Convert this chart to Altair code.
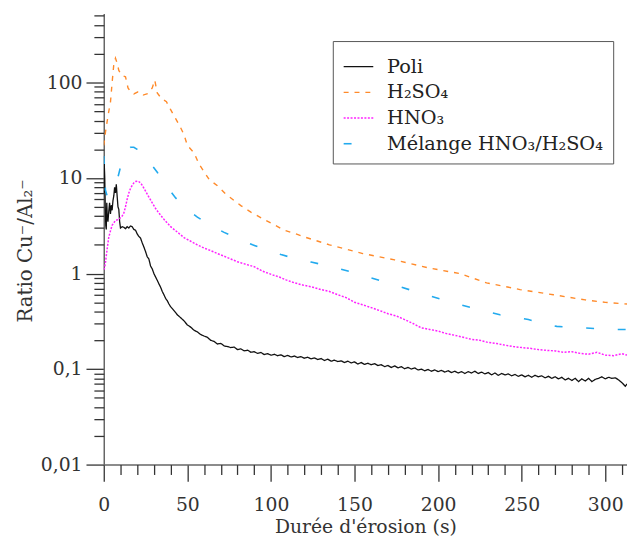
import altair as alt
import pandas as pd

names = ["Poli", "H₂SO₄", "HNO₃", "Mélange HNO₃/H₂SO₄"]
colors = ["#111111", "#ff8a2a", "#ff22ff", "#22aaee"]
dashes = [[1, 0], [5, 6], [2, 1.5], [8, 24]]
widths = [1.3, 1.6, 1.6, 1.8]

poli_t = [0, 0.3, 0.6, 0.9, 1.2, 1.5, 1.8, 2.1, 2.5, 3, 3.5, 4, 4.5, 5, 5.5, 6, 6.5, 7, 7.5, 8, 8.5, 9, 9.5,
          10, 11, 12, 13, 14, 15, 16, 17, 18, 19, 20, 21, 22, 23, 24, 25, 26, 27, 28, 29, 30, 31, 32, 33, 34,
          35, 36, 37, 38, 39, 40, 41, 42, 43,
          44, 46, 48, 50, 52, 54, 56, 58, 60, 62, 64, 66, 68, 70, 72, 74, 76, 78, 80, 82, 84, 86, 88, 90,
          92, 94, 96, 98, 100, 102, 104, 106, 108, 110, 112, 114, 116, 118, 120, 122, 124, 126, 128, 130,
          132, 134, 136, 138, 140, 142, 144, 146, 148, 150, 152, 154, 156, 158, 160, 162, 164, 166, 168, 170,
          172, 174, 176, 178, 180, 182, 184, 186, 188, 190, 192, 194, 196, 198, 200, 202, 204, 206, 208, 210,
          212, 214, 216, 218, 220, 222, 224, 226, 228, 230, 232, 234, 236, 238, 240, 242, 244, 246, 248, 250,
          252, 254, 256, 258, 260, 262, 264, 266, 268, 270, 272, 274, 276, 278, 280, 282, 284, 286, 288, 290,
          292, 294, 296, 298, 300, 302, 304, 306, 308, 310, 312, 313]
poli_v = [7, 14, 10, 5, 3.2, 2.9, 5.5, 4, 3.5, 4.5, 5.5, 4.2, 5.2, 4.6, 5.8, 6.5, 8, 7, 8.6, 6.5, 5, 4.7, 3.5,
          3.0, 3.1, 3.05, 2.95, 3.1, 3.0, 3.15, 3.1, 2.9, 2.85, 2.6, 2.45, 2.35, 2.1, 1.9, 1.7, 1.5, 1.42, 1.2,
          1.12, 1.0, 0.92, 0.85, 0.78, 0.72, 0.65, 0.6, 0.55, 0.52, 0.48, 0.45, 0.43, 0.41, 0.39,
          0.37, 0.345, 0.32, 0.29, 0.275, 0.255, 0.245, 0.23, 0.222, 0.215, 0.2, 0.195, 0.183, 0.186, 0.175,
          0.172, 0.168, 0.17, 0.16, 0.163, 0.155, 0.158, 0.15, 0.152,
          0.146, 0.149, 0.142, 0.145, 0.14, 0.143, 0.138, 0.141, 0.135, 0.139, 0.134, 0.137, 0.132, 0.135,
          0.13, 0.133, 0.128, 0.131, 0.126, 0.129,
          0.123, 0.127, 0.121, 0.124, 0.12, 0.122, 0.117, 0.121, 0.116, 0.119, 0.113, 0.117, 0.112, 0.115,
          0.111, 0.114, 0.109, 0.111, 0.106, 0.109,
          0.104, 0.108, 0.103, 0.106, 0.101, 0.104, 0.1, 0.103, 0.098, 0.1, 0.096, 0.099, 0.095, 0.098, 0.094,
          0.097, 0.093, 0.096, 0.092, 0.095,
          0.091, 0.094, 0.09, 0.094, 0.091, 0.095, 0.09, 0.093, 0.089, 0.092, 0.087, 0.091, 0.086, 0.09, 0.087,
          0.089, 0.085, 0.088, 0.084, 0.087,
          0.083, 0.086, 0.082, 0.086, 0.083, 0.085, 0.081, 0.084, 0.08, 0.083, 0.079, 0.082, 0.077, 0.08,
          0.076, 0.08, 0.074, 0.079, 0.075, 0.08,
          0.074, 0.078, 0.08, 0.083, 0.079, 0.082, 0.08, 0.081, 0.077, 0.072, 0.066, 0.07]

h2so4_t = [0, 1, 2, 3, 4, 5, 6, 7, 8, 9, 11, 13, 14.5, 16, 18, 20.5, 23.5, 26.5, 29, 30.5, 32, 34.5, 37.5,
           40, 43, 45.5, 48, 50, 54, 57, 63, 68, 73, 82, 88, 97, 108, 115, 120, 135, 155, 174, 194, 213,
           229, 249, 269, 288, 300, 313]
h2so4_v = [22, 30, 39, 50, 62, 100, 155, 180, 160, 134, 118, 115, 88, 80, 76, 80, 74, 77, 88, 106, 78, 68, 63,
           52, 42, 35, 28.5, 22, 18.4, 14, 9.7, 8.3, 6.8, 5.15, 4.4, 3.6, 2.85, 2.6, 2.42, 2.0, 1.62, 1.39,
           1.15, 1.0, 0.8, 0.68, 0.6, 0.53, 0.5, 0.48]

hno3_t = [0, 0.5, 1, 2, 3, 4, 5, 6, 7, 9, 11, 12, 13, 14, 15, 16, 17, 18, 19, 20.5, 22, 23, 25, 27, 29, 31,
          33, 36, 40, 44, 48, 52, 56, 60, 64, 68, 72, 76, 80, 85, 90, 95, 101, 105, 109, 114, 119, 125, 130,
          135, 140, 145, 150, 155, 160, 165, 170, 175, 180, 185, 190, 195, 200, 205, 210, 215, 220, 225, 230,
          235, 240, 245, 250, 255, 260, 265, 270, 275, 280, 285, 290, 295, 300, 305, 310, 313]
hno3_v = [1.1, 1.15, 1.3, 1.8, 2.4, 2.8, 3.2, 3.4, 3.6, 3.7, 4.0, 4.3, 5.0, 6.0, 7.0, 7.8, 8.4, 8.9, 9.2, 9.3,
          8.9, 8.4, 7.3, 6.3, 5.5, 4.8, 4.3, 3.7, 3.1, 2.72, 2.38, 2.18, 2.0, 1.85, 1.74, 1.62, 1.52, 1.42,
          1.33, 1.25, 1.18, 1.06, 0.97, 0.92, 0.86, 0.8, 0.76, 0.72, 0.68, 0.65, 0.6, 0.56, 0.5, 0.47, 0.44,
          0.41, 0.38, 0.36, 0.33, 0.3, 0.27, 0.26, 0.25, 0.235, 0.226, 0.215, 0.205, 0.2, 0.19, 0.185, 0.178,
          0.172, 0.168, 0.165, 0.16, 0.157, 0.155, 0.15, 0.152, 0.146, 0.143, 0.15, 0.14, 0.138, 0.145, 0.14]

mel_t = [0, 0.5, 1, 2, 4, 6, 8, 10, 12, 14, 16, 18, 20, 23, 27, 32, 37, 43, 49, 56, 64, 72, 81, 89, 98, 106,
         115, 124, 132, 141, 150, 158, 167, 176, 185, 194, 203, 212, 220, 229, 237, 246, 254, 263, 271, 279,
         287, 296, 305, 313]
mel_v = [17, 12, 7.5, 6.5, 7, 8, 9.5, 13, 16.5, 19.5, 21, 21, 20, 18, 15, 11.5, 8.5, 6.2, 4.8, 3.9, 3.2, 2.7,
         2.3, 2.0, 1.76, 1.58, 1.43, 1.32, 1.23, 1.12, 1.02, 0.92, 0.83, 0.74, 0.66, 0.59, 0.53, 0.48, 0.44,
         0.4, 0.37, 0.35, 0.33, 0.3, 0.28, 0.275, 0.27, 0.265, 0.26, 0.26]

x_major = [0, 50, 100, 150, 200, 250, 300]
x_minor = [v for v in range(0, 320, 10) if v % 50 != 0]
y_major = [0.01, 0.1, 1, 10, 100]
y_minor = [round(d * k, 6) for d in y_major for k in range(2, 10)] + [200, 300, 400, 500]

frames = []
for name, ts, vs in [(names[0], poli_t, poli_v), (names[1], h2so4_t, h2so4_v),
                     (names[2], hno3_t, hno3_v), (names[3], mel_t, mel_v)]:
    frames.append(pd.DataFrame({"t": ts, "v": vs, "serie": name}))
df = pd.concat(frames, ignore_index=True)

FONT = "DejaVu Serif"
TICK = "#333333"
xscale = alt.Scale(domain=[0, 313], nice=False, zero=False)
yscale = alt.Scale(type="log", domain=[0.01, 530], nice=False)

legend = alt.Legend(
    title=None, orient="none", legendX=232, legendY=28,
    labelFont=FONT, labelFontSize=19.5, labelColor="#222", labelLimit=400,
    symbolType="stroke", symbolSize=900, symbolStrokeWidth=2,
    strokeColor="#555", fillColor="white", padding=10, rowPadding=-1, labelOffset=13,
)

lines = alt.Chart(df).mark_line(clip=True).encode(
    x=alt.X("t:Q", title="Durée d'érosion (s)", scale=xscale,
            axis=alt.Axis(values=x_major, orient="bottom", ticks=True, tickSize=17,
                          labelFlush=False, labelOverlap=False, grid=False,
                          labelFont=FONT, labelFontSize=19, labelColor="#333", labelPadding=15,
                          titleFont=FONT, titleFontSize=19, titleFontWeight="normal", titleColor="#333",
                          titlePadding=3,
                          domainColor="#666", domainWidth=1.5, tickColor=TICK, tickWidth=1.3)),
    y=alt.Y("v:Q", title="Ratio Cu⁻/Al₂⁻", scale=yscale,
            axis=alt.Axis(values=y_major, orient="left", ticks=True, tickSize=18,
                          labelExpr="datum.value == 0.01 ? '0,01' : datum.value == 0.1 ? '0,1' : datum.label",
                          labelOverlap=False, grid=False,
                          labelFont=FONT, labelFontSize=19, labelColor="#333", labelPadding=4,
                          titleFont=FONT, titleFontSize=20, titleFontWeight="normal", titleColor="#333",
                          titlePadding=5, titleY=240,
                          domainColor="#666", domainWidth=1.5, tickColor=TICK, tickWidth=1.3)),
    color=alt.Color("serie:N", scale=alt.Scale(domain=names, range=colors), legend=legend),
    strokeDash=alt.StrokeDash("serie:N", scale=alt.Scale(domain=names, range=dashes), legend=legend),
    strokeWidth=alt.StrokeWidth("serie:N", scale=alt.Scale(domain=names, range=widths), legend=None),
)

minor = alt.Chart(df).mark_point(opacity=0, size=1).encode(
    x=alt.X("t:Q", scale=xscale, title=None,
            axis=alt.Axis(values=x_minor, orient="bottom", ticks=True, tickSize=10, labels=False,
                          domain=False, grid=False, tickColor=TICK, tickWidth=1.3)),
    y=alt.Y("v:Q", scale=yscale, title=None,
            axis=alt.Axis(values=y_minor, orient="left", ticks=True, tickSize=10, labels=False,
                          domain=False, grid=False, tickColor=TICK, tickWidth=1.3)),
)

chart = alt.layer(lines, minor).resolve_axis(x="independent", y="independent").properties(
    width=530, height=457,
    padding={"left": 97, "top": 2, "right": 0, "bottom": 80},
    autosize=alt.AutoSizeParams(type="none"),
).configure_view(stroke=None)

chart.save("out.html", embed_options={"renderer": "svg", "actions": False})
